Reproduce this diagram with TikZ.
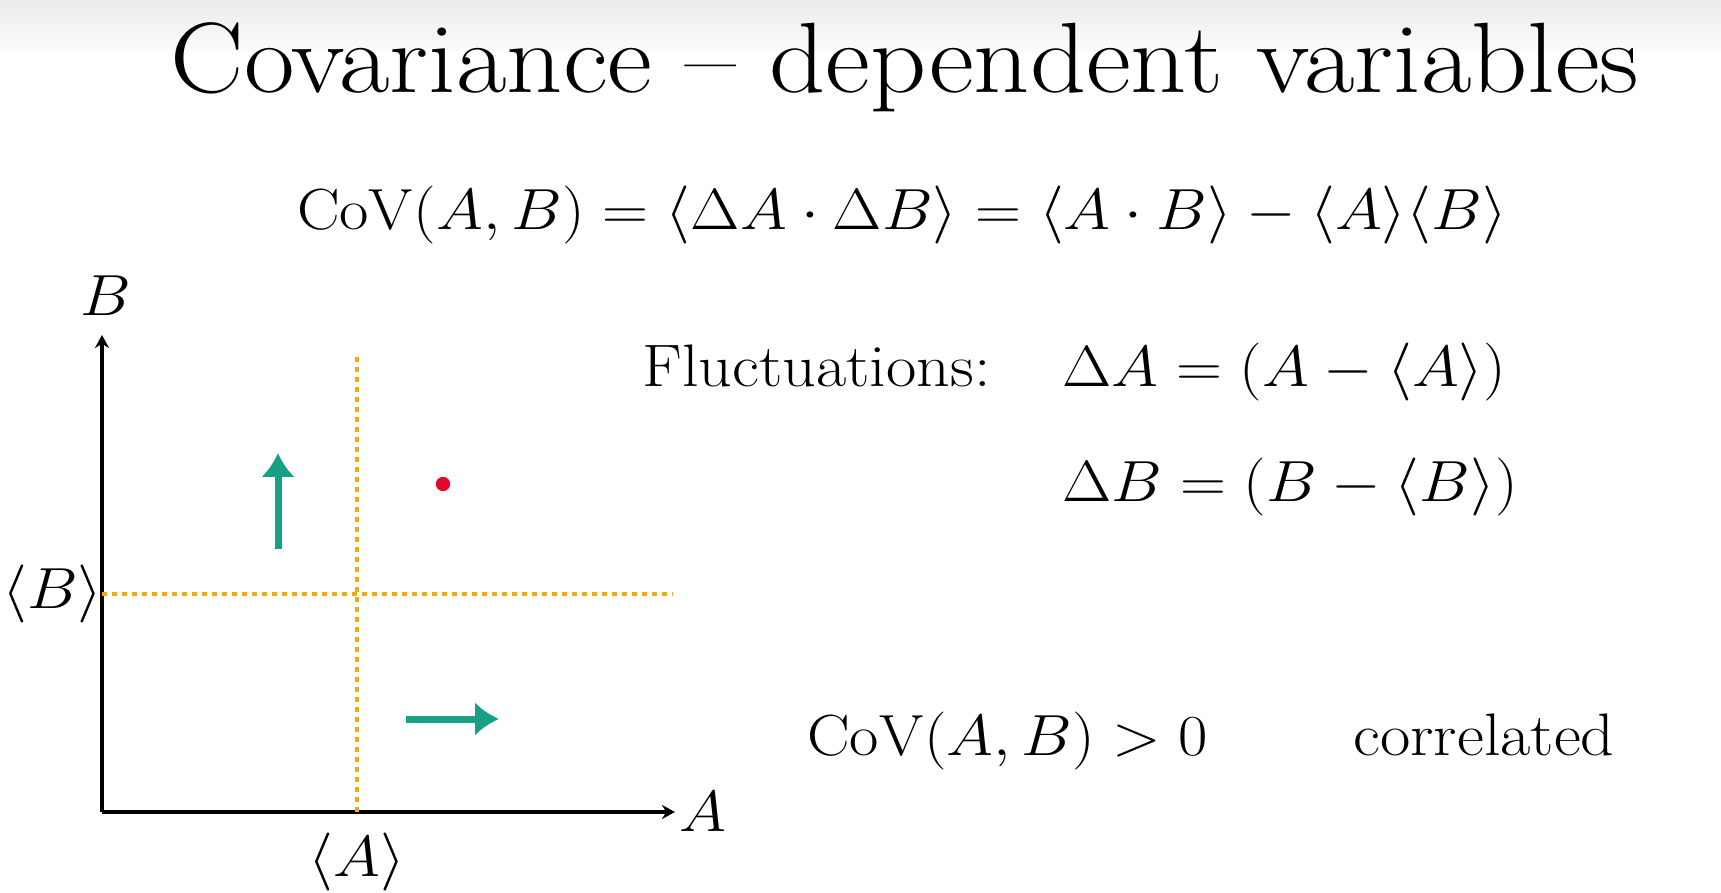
\documentclass[tikz,border=0pt]{standalone}
\usepackage{amsmath}
\usetikzlibrary{positioning, arrows.meta}

\definecolor{fluctgreen}{RGB}{24,160,134}
\definecolor{meanorange}{RGB}{242,170,20}
\definecolor{pointred}{RGB}{228,8,44}

% the slide is a little wider than its letters
\newcommand{\wide}[1]{\scalebox{1.1}[1]{#1}}
\newcommand{\mathwide}[1]{\scalebox{1.282}[1.166]{#1}}

\begin{document}
\begin{tikzpicture}[
        x=0.5pt, y=-0.5pt,
        >=stealth,
        axis/.style={line width=1.6pt, -{Stealth[length=6.5pt, width=7pt]}},
        meanline/.style={draw=meanorange, line width=2.4pt, dash pattern=on 2.4pt off 2.6pt},
        fluct/.style={draw=fluctgreen, line width=3.5pt, -{Latex[length=12pt, width=17pt]}},
        body/.style={font=\fontsize{30}{36}\selectfont, inner sep=0pt},
        formula/.style={font=\fontsize{24.88}{30}\selectfont, inner sep=0pt},
        heading/.style={font=\fontsize{50}{60}\selectfont, inner sep=0pt},
    ]
        \useasboundingbox (0,0) rectangle (1721,893);
        \shade[top color=black!8, bottom color=black!1] (0,0) rectangle (1721,52);

        % Draw the title and the definition
        \node[heading, anchor=base] (title) at (905,93) {\wide{Covariance -- dependent variables}};
        \node[formula, anchor=base] (cov) at (902,230)
            {\mathwide{$\mathrm{CoV}(A,B) = \langle \Delta A\cdot\Delta B\rangle = \langle A\cdot B\rangle - \langle A\rangle\langle B\rangle$}};

        % Draw the fluctuations
        \node[body, anchor=base west] (fluct) at (642,387) {\wide{Fluctuations:}};
        \node[formula, anchor=base west] (dA) at (1062,387) {\mathwide{$\Delta A = (A - \langle A\rangle)$}};
        \node[formula, anchor=base west] (dB) at (1062,502) {\mathwide{$\Delta B = (B - \langle B\rangle)$}};

        % Draw the conclusion
        \node[formula, anchor=base west] (covpos) at (807,755) {\mathwide{$\mathrm{CoV}(A,B) > 0$}};
        \node[body, anchor=base west] (corr) at (1353,755) {\wide{correlated}};

        % Draw the axes
        \coordinate (origin) at (102,812);
        \coordinate (xend) at (675,812);
        \coordinate (ytop) at (102,335);
        \draw[axis] (origin) -- (xend);
        \draw[axis] (origin) -- (ytop);
        \node[formula, anchor=west, inner sep=2pt] (A-lab) at (xend) {\mathwide{$A$}};
        \node[formula, anchor=south] (B-lab) at (106,316) {\mathwide{$B$}};

        % Draw the mean values
        \coordinate (meanA-top) at (357,357);
        \coordinate (meanA-bot) at (357,812);
        \coordinate (meanB-left) at (102,594);
        \coordinate (meanB-right) at (673,594);
        \draw[meanline] (meanA-top) -- (meanA-bot);
        \draw[meanline] (meanB-left) -- (meanB-right);
        \node[formula] (meanA-lab) at (357,862) {\mathwide{$\langle A\rangle$}};
        \node[formula, anchor=west] (meanB-lab) at (2,594) {\mathwide{$\langle B\rangle$}};

        % Draw the fluctuation arrows and the sample point
        \coordinate (up-start) at (278,549);
        \coordinate (up-end) at (278,453);
        \coordinate (right-start) at (406,719);
        \coordinate (right-end) at (499,719);
        \draw[fluct] (up-start) -- (up-end);
        \draw[fluct] (right-start) -- (right-end);
        \coordinate (sample) at (443,484);
        \fill[pointred] (sample) circle[radius=3.6pt];
\end{tikzpicture}
\end{document}
